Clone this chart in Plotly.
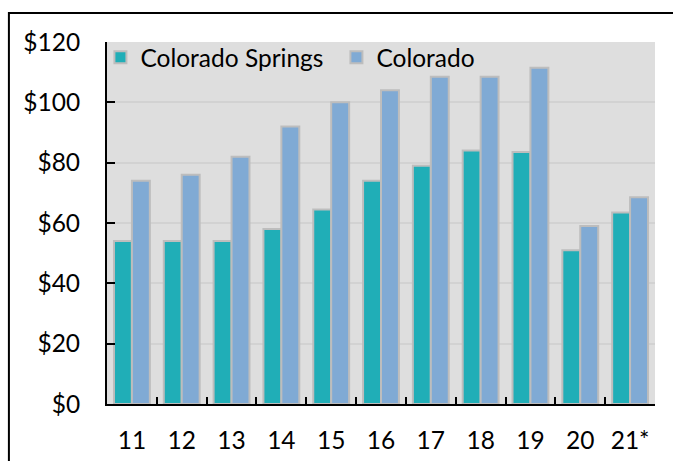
import plotly.graph_objects as go

# Categories (years) and values in dollars
years = ["11", "12", "13", "14", "15", "16", "17", "18", "19", "20", "21*"]
colorado_springs = [54, 54, 54, 58, 64.5, 74, 79, 84, 83.5, 51, 63.5]
colorado = [74, 76, 82, 92, 100, 104, 108.5, 108.5, 111.5, 59, 68.5]
y_ticks = [0, 20, 40, 60, 80, 100, 120]
y_tick_labels = ["$" + str(v) for v in y_ticks]

FONT = "Lato"
SIZE = 24.5
outline = dict(color="#bdbdbd", width=2)

fig = go.Figure()
fig.add_trace(go.Bar(x=years, y=colorado_springs, name="Colorado Springs",
                     marker=dict(color="#20aeb7", line=outline)))
fig.add_trace(go.Bar(x=years, y=colorado, name="Colorado",
                     marker=dict(color="#80aad4", line=outline)))

fig.update_layout(
    width=673, height=461,
    margin=dict(l=107, r=18, t=42, b=57),
    paper_bgcolor="white",
    plot_bgcolor="#dedede",
    barmode="group",
    bargap=0.28,
    bargroupgap=0,
    font=dict(family=FONT, size=SIZE, color="black"),
    showlegend=True,
    legend=dict(orientation="h", x=-0.012, y=1.02, xanchor="left", yanchor="top",
                bgcolor="rgba(0,0,0,0)", font=dict(size=SIZE),
                itemwidth=30, entrywidth=191, traceorder="normal"),
    xaxis=dict(
        type="category",
        showline=True, linecolor="black", linewidth=2,
        ticks="inside", ticklen=7, tickwidth=1.5, tickcolor="black",
        tickson="boundaries",
        showgrid=False,
        tickfont=dict(size=SIZE),
        ticklabelstandoff=14,
        automargin=False,
        fixedrange=True,
    ),
    yaxis=dict(
        range=[0, 120],
        tickvals=y_ticks, ticktext=y_tick_labels,
        showline=True, linecolor="black", linewidth=2,
        ticks="inside", ticklen=8, tickwidth=1.5, tickcolor="black",
        showgrid=True, gridcolor="#d2d2d2", gridwidth=1.5,
        zeroline=False,
        tickfont=dict(size=SIZE),
        ticklabelstandoff=20,
        automargin=False,
    ),
)

# Frame around the chart (runs off the right and bottom edges)
fig.add_shape(type="rect", xref="paper", yref="paper",
              x0=-0.179, x1=1.5, y0=-0.5, y1=1.08,
              line=dict(color="black", width=2), fillcolor="rgba(0,0,0,0)",
              layer="above")

fig.write_html("out.html")
